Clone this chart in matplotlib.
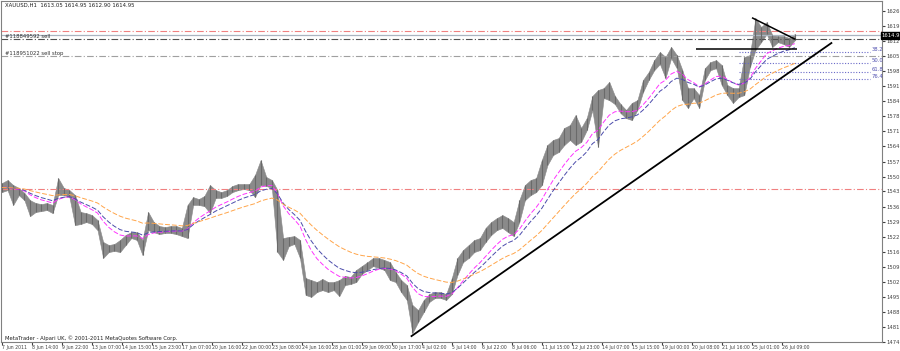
import numpy as np
import pandas as pd
import matplotlib
matplotlib.use("Agg")
import matplotlib.pyplot as plt

bar = np.arange(0, 142 * 6, 6)
hi = [1547.4, 1548.8, 1546.5, 1545.2, 1542.9, 1539.6, 1538.3, 1537.8, 1538.3, 1537.4,
      1549.7, 1545.2, 1544.2, 1541.9, 1534.2, 1533.7, 1532.8, 1530.5, 1520.5, 1519.1,
      1519.6, 1521.4, 1523.7, 1525.0, 1525.0, 1521.4, 1534.2, 1529.6, 1527.8, 1527.3,
      1527.8, 1527.8, 1526.9, 1537.4, 1541.0, 1540.1, 1541.5, 1546.5, 1544.2, 1543.3,
      1544.2, 1546.1, 1547.0, 1547.0, 1547.0, 1551.1, 1557.9, 1550.2, 1548.8, 1544.2,
      1522.3, 1522.8, 1523.2, 1521.4, 1504.0, 1503.1, 1502.2, 1503.6, 1502.2, 1502.2,
      1503.1, 1505.0, 1504.5, 1507.7, 1509.5, 1511.3, 1513.2, 1513.2, 1512.3, 1511.3,
      1506.8, 1503.1, 1500.8, 1491.7, 1489.4, 1494.0, 1496.7, 1497.6, 1497.6, 1496.7,
      1504.0, 1513.2, 1516.8, 1519.1, 1521.4, 1522.3, 1526.9, 1529.6, 1531.4, 1532.8,
      1531.4, 1529.6, 1539.6, 1546.5, 1548.8, 1549.7, 1557.9, 1564.8, 1567.1, 1568.0,
      1572.6, 1573.9, 1578.5, 1572.6, 1577.1, 1587.2, 1589.9, 1590.8, 1593.6, 1587.2,
      1583.5, 1580.8, 1584.0, 1585.3, 1594.5, 1598.1, 1603.6, 1607.3, 1605.0, 1609.6,
      1605.9, 1599.0, 1590.8, 1590.8, 1587.6, 1599.9, 1602.7, 1603.6, 1601.3, 1592.2,
      1590.8, 1590.8, 1605.0, 1605.9, 1622.8, 1618.7, 1621.0, 1615.0, 1614.6, 1614.6,
      1613.7, 1615.5]
lo = [1543.3, 1544.2, 1537.4, 1541.9, 1539.6, 1532.3, 1534.2, 1534.6, 1535.1, 1533.7,
      1541.9, 1541.9, 1541.0, 1528.2, 1528.7, 1529.6, 1528.7, 1525.9, 1513.2, 1515.9,
      1516.4, 1515.9, 1519.1, 1522.3, 1521.4, 1514.5, 1525.9, 1525.0, 1524.1, 1524.6,
      1524.6, 1524.1, 1523.2, 1522.3, 1537.4, 1537.4, 1536.9, 1533.7, 1540.6, 1540.6,
      1541.5, 1543.3, 1544.2, 1544.7, 1544.2, 1541.0, 1546.5, 1546.1, 1545.2, 1515.9,
      1512.3, 1518.6, 1519.6, 1513.2, 1496.3, 1495.4, 1497.6, 1498.5, 1497.6, 1498.5,
      1495.8, 1500.8, 1501.3, 1502.2, 1505.9, 1507.7, 1509.5, 1508.6, 1507.7, 1503.1,
      1502.2, 1497.6, 1494.0, 1478.9, 1483.9, 1488.5, 1493.1, 1494.9, 1494.9, 1494.0,
      1496.7, 1505.4, 1511.3, 1513.2, 1515.9, 1516.8, 1520.5, 1523.7, 1525.9, 1526.9,
      1525.0, 1523.2, 1529.6, 1539.6, 1541.9, 1543.3, 1546.5, 1555.6, 1560.2, 1561.6,
      1564.8, 1567.1, 1564.8, 1566.2, 1571.6, 1580.8, 1563.9, 1586.3, 1585.3, 1583.5,
      1579.4, 1577.1, 1576.2, 1580.8, 1589.0, 1594.5, 1599.0, 1601.8, 1595.4, 1604.5,
      1599.9, 1585.3, 1581.7, 1586.3, 1581.7, 1594.5, 1599.0, 1599.9, 1592.2, 1587.6,
      1584.0, 1586.7, 1587.6, 1600.4, 1608.2, 1611.8, 1615.5, 1609.6, 1611.8, 1610.9,
      1609.6, 1612.7]

# ── axis labels ──
price_ticks = [1626.00, 1619.20, 1612.40, 1605.40, 1598.60, 1591.60, 1584.80, 1578.00,
               1571.00, 1564.20, 1557.20, 1550.40, 1543.60, 1536.60, 1529.80, 1522.80,
               1516.00, 1509.20, 1502.20, 1495.40, 1488.40, 1481.60, 1474.80]
date_labels = ["7 Jun 2011", "8 Jun 14:00", "9 Jun 22:00", "13 Jun 07:00", "14 Jun 15:00",
               "15 Jun 23:00", "17 Jun 07:00", "20 Jun 16:00", "22 Jun 00:00", "23 Jun 08:00",
               "24 Jun 16:00", "28 Jun 01:00", "29 Jun 09:00", "30 Jun 17:00", "4 Jul 02:00",
               "5 Jul 14:00", "6 Jul 22:00", "8 Jul 06:00", "11 Jul 15:00", "12 Jul 23:00",
               "14 Jul 07:00", "15 Jul 15:00", "19 Jul 00:00", "20 Jul 08:00", "21 Jul 16:00",
               "25 Jul 01:00", "26 Jul 09:00"]
date_bars = [32 * i for i in range(len(date_labels))]

# ── horizontal levels / objects ──
last_price = 1614.95
red_levels = [1616.9, 1544.7]
sell_level = 1613.2
sell_stop_level = 1605.4
fib_levels = [1607.3, 1602.2, 1598.1, 1594.9]
fib_labels = ["38.2", "50.0", "61.8", "76.4"]
fib_span = (786, 926)
flag_level = 1608.6
flag_span = (741, 848)
tri_x = [801, 846]
tri_y = [1622.8, 1613.2]
trend_x = [437, 885]
trend_y = [1477.5, 1611.4]

hi = np.array(hi)
lo = np.array(lo)
mid = pd.Series((hi + lo) / 2)
ma_fast = mid.ewm(span=8, adjust=False).mean()
ma_mid = mid.ewm(span=11, adjust=False).mean()
ma_slow = mid.ewm(span=23, adjust=False).mean()

fig = plt.figure(figsize=(9, 3.51), dpi=100)
ax = fig.add_axes([1 / 900, 9 / 351, 881 / 900, 341 / 351])
ax.set_xlim(-1, 939)
ax.set_ylim(1474.8, 1630.6)

# levels
for lv in red_levels:
    ax.axhline(lv, color="#f08080", lw=0.8, ls=(0, (6, 2, 1, 2)))
ax.axhline(last_price, color="#aab4c0", lw=0.9)
ax.axhline(sell_level, color="#505050", lw=0.8, ls=(0, (6, 2, 1, 2)))
ax.axhline(sell_stop_level, color="#a0a0a0", lw=0.8, ls=(0, (6, 2, 1, 2)))
ax.text(3, sell_level + 0.6, "#118849592 sell", fontsize=3.8, color="#303030")
ax.text(3, sell_stop_level + 0.6, "#118951022 sell stop", fontsize=3.8, color="#303030")

for lv, lab in zip(fib_levels, fib_labels):
    ax.hlines(lv, fib_span[0], fib_span[1], color="#6a6ac8", lw=0.8, ls=(0, (1, 1.5)))
    ax.text(fib_span[1] + 2, lv, lab, fontsize=3.8, color="#5050b0", va="bottom")

# price
ax.fill_between(bar, lo, hi, color="#8a8a8a", lw=0.4)
ax.vlines(bar, lo, hi, color="#6a6a6a", lw=0.8)

# moving averages
ax.plot(bar, ma_fast, color="#ff33ff", lw=0.7, ls=(0, (5, 2)))
ax.plot(bar, ma_mid, color="#4b4bab", lw=0.7, ls=(0, (5, 2)))
ax.plot(bar, ma_slow, color="#ffa54a", lw=0.7, ls=(0, (5, 2)))

# drawn objects
ax.plot(trend_x, trend_y, color="black", lw=1.3)
ax.hlines(flag_level, flag_span[0], flag_span[1], color="black", lw=1.1)
ax.plot(tri_x, tri_y, color="black", lw=1.1)

# axes styling
for s in ax.spines.values():
    s.set_color("#808080")
    s.set_linewidth(0.8)
ax.yaxis.tick_right()
ax.set_yticks(price_ticks)
ax.set_yticklabels([f"{p:.2f}" for p in price_ticks])
ax.set_xticks(date_bars)
ax.set_xticklabels(date_labels, ha="left")
ax.tick_params(axis="y", labelsize=3.8, length=2, pad=1, colors="#404040")
ax.tick_params(axis="x", labelsize=3.3, length=2, pad=0.5, colors="#404040")

ax.text(938.5, last_price, "1614.95", fontsize=3.8, color="white", va="center", ha="left",
        bbox=dict(boxstyle="square,pad=0.15", fc="black", ec="black"), clip_on=False)
ax.text(3, 1628.6, "XAUUSD,H1  1613.05 1614.95 1612.90 1614.95", fontsize=3.9,
        color="#202020", va="center")
ax.text(3, 1476.4, "MetaTrader - Alpari UK, \u00a9 2001-2011 MetaQuotes Software Corp.",
        fontsize=3.8, color="#202020", va="center")

fig.savefig("out.png", dpi=100)
